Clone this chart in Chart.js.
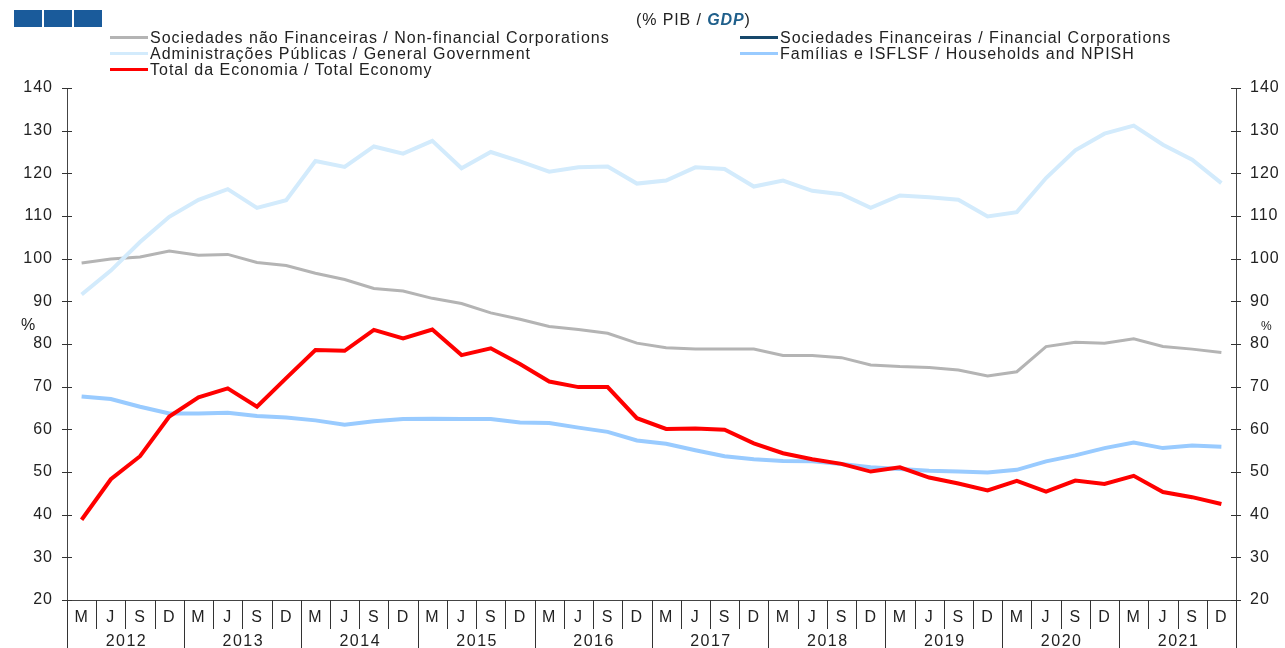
<!DOCTYPE html>
<html>
<head>
<meta charset="utf-8">
<script src="https://cdn.jsdelivr.net/npm/chart.js@4.4.0/dist/chart.umd.min.js"></script>
<style>
    body { margin: 0; background: #fff; font-family: "Liberation Sans", Arial, sans-serif; color: #222; }
    #wrap { position: relative; width: 1285px; height: 648px; overflow: hidden; }
    #wrap canvas { position: absolute; left: 0; top: 0; }
    .sq { position: absolute; top: 10px; width: 28px; height: 17px; background: #1a5b9b; }
    #subtitle { position: absolute; left: 636px; top: 11px; font-size: 16px; letter-spacing: 0.9px; }
    #subtitle b { color: #1f5f8b; font-style: italic; }
    .leg { position: absolute; font-size: 16px; letter-spacing: 1px; line-height: 16px; white-space: nowrap; }
    .leg span.ln { display: inline-block; width: 38px; height: 3px; vertical-align: middle; margin-right: 2px; position: relative; top: -1px; }
    .pct { position: absolute; font-size: 16px; }
</style>
</head>
<body>
<div id="wrap">
    <canvas id="myChart" width="1285" height="648"></canvas>
    <div class="sq" style="left:14px"></div>
    <div class="sq" style="left:44px"></div>
    <div class="sq" style="left:74px"></div>
    <div id="subtitle">(% PIB / <b>GDP</b>)</div>
    <div id="legend"></div>
    <div class="pct" style="left:21px;top:316px">%</div>
    <div class="pct" style="left:1261px;top:319px;font-size:12px">%</div>
</div>
<script>
const years = ['2012', '2013', '2014', '2015', '2016', '2017', '2018', '2019', '2020', '2021'];
const quarterLetters = ['M', 'J', 'S', 'D'];

const nonFinancial = [99, 99.9, 100.4, 101.8, 100.8, 101, 99.1, 98.4, 96.6, 95.1,
    93, 92.4, 90.7, 89.5, 87.3, 85.8, 84.1, 83.4, 82.5, 80.2,
    79.1, 78.8, 78.8, 78.8, 77.3, 77.3, 76.8, 75.1, 74.7, 74.5,
    73.9, 72.5, 73.5, 79.4, 80.4, 80.2, 81.2, 79.4, 78.8, 78];
const financialCorp = [];
const generalGov = [91.6, 97.2, 103.9, 109.8, 113.8, 116.3, 111.9, 113.7, 122.9, 121.5,
    126.3, 124.6, 127.6, 121.2, 125, 122.8, 120.4, 121.4, 121.6, 117.6,
    118.3, 121.4, 121, 116.9, 118.3, 115.9, 115.1, 111.9, 114.8, 114.4,
    113.8, 109.9, 110.9, 118.9, 125.4, 129.3, 131.2, 126.7, 123.2, 117.7];
const households = [67.7, 67.1, 65.3, 63.7, 63.7, 63.9, 63.1, 62.8, 62.1, 61.1,
    61.9, 62.4, 62.5, 62.4, 62.4, 61.6, 61.5, 60.4, 59.4, 57.4,
    56.6, 55.1, 53.7, 53, 52.6, 52.5, 51.9, 51.1, 50.7, 50.3,
    50.1, 49.9, 50.5, 52.5, 53.9, 55.6, 56.9, 55.6, 56.2, 55.9];
const totalEconomy = [38.8, 48.3, 53.7, 63, 67.5, 69.6, 65.3, 72, 78.6, 78.4,
    83.3, 81.3, 83.4, 77.4, 79, 75.3, 71.2, 69.9, 69.9, 62.6,
    60.1, 60.2, 59.9, 56.7, 54.4, 53, 51.9, 50.1, 51.1, 48.7,
    47.3, 45.7, 47.9, 45.4, 48, 47.2, 49.1, 45.3, 44.1, 42.5];

const labels = [];
years.forEach(() => quarterLetters.forEach(q => labels.push(q)));

const series = [
    { label: 'Sociedades não Financeiras / Non-financial Corporations', data: nonFinancial, color: '#b4b4b4', width: 3, order: 4, legendX: 110, legendY: 30 },
    { label: 'Sociedades Financeiras / Financial Corporations', data: financialCorp, color: '#17486b', width: 3, order: 5, legendX: 740, legendY: 30 },
    { label: 'Administrações Públicas / General Government', data: generalGov, color: '#d3ebfc', width: 4, order: 3, legendX: 110, legendY: 46 },
    { label: 'Famílias e ISFLSF / Households and NPISH', data: households, color: '#99cbff', width: 4, order: 2, legendX: 740, legendY: 46 },
    { label: 'Total da Economia / Total Economy', data: totalEconomy, color: '#ff0000', width: 4, order: 1, legendX: 110, legendY: 62 }
];

// legend laid out like the original two-column block
const legend = document.getElementById('legend');
series.forEach(s => {
    const item = document.createElement('div');
    item.className = 'leg';
    item.style.left = s.legendX + 'px';
    item.style.top = s.legendY + 'px';
    item.innerHTML = `<span class="ln" style="background:${s.color}"></span>${s.label}`;
    legend.appendChild(item);
});

const FONT = '"Liberation Sans", Arial, sans-serif';

// wider text like the original
const spacing = {
    id: 'spacing',
    beforeDraw(chart) { chart.ctx.letterSpacing = '1px'; }
};

// separators under the x axis, year labels and crossing ticks on both y axes
const axisDecor = {
    id: 'axisDecor',
    afterDraw(chart) {
        const { ctx, chartArea, scales } = chart;
        const x = scales.x;
        const half = (x.getPixelForValue(1) - x.getPixelForValue(0)) / 2;
        ctx.save();
        ctx.strokeStyle = '#333';
        ctx.lineWidth = 1;
        for (let i = 0; i <= labels.length; i++) {
            const px = Math.round(i < labels.length ? x.getPixelForValue(i) - half : x.getPixelForValue(labels.length - 1) + half) + 0.5;
            const len = i % 4 === 0 ? 48 : 29;
            ctx.beginPath();
            ctx.moveTo(px, chartArea.bottom);
            ctx.lineTo(px, chartArea.bottom + len);
            ctx.stroke();
        }
        ctx.fillStyle = '#222';
        ctx.font = '16px ' + FONT;
        ctx.letterSpacing = '1.5px';
        ctx.textAlign = 'center';
        ctx.textBaseline = 'middle';
        years.forEach((yr, k) => {
            const cx = (x.getPixelForValue(k * 4) + x.getPixelForValue(k * 4 + 3)) / 2;
            ctx.fillText(yr, cx + 1, chartArea.bottom + 42);
        });
        ['y', 'y2'].forEach(id => {
            const sc = scales[id];
            const ax = id === 'y' ? chartArea.left : chartArea.right;
            sc.ticks.forEach(t => {
                const py = Math.round(sc.getPixelForValue(t.value)) + 0.5;
                ctx.beginPath();
                ctx.moveTo(ax - 5, py);
                ctx.lineTo(ax + 5, py);
                ctx.stroke();
            });
        });
        ctx.restore();
    }
};

const tickFont = { family: FONT, size: 16 };
const yAxis = (position, width, pad) => ({
    position: position,
    min: 20,
    max: 140,
    ticks: { stepSize: 10, padding: pad, color: '#222', font: tickFont },
    grid: { display: false },
    border: { color: '#444', width: 1 },
    afterFit(scale) { scale.width = width; }
});

const ctx = document.getElementById('myChart').getContext('2d');
new Chart(ctx, {
    type: 'line',
    data: {
        labels: labels,
        datasets: series.map(s => ({
            label: s.label,
            data: s.data,
            borderColor: s.color,
            backgroundColor: s.color,
            borderWidth: s.width,
            pointRadius: 0,
            tension: 0,
            order: s.order,
            yAxisID: 'y'
        }))
    },
    options: {
        responsive: false,
        animation: false,
        layout: { padding: { top: 88, left: 0, right: 0, bottom: 0 } },
        plugins: { legend: { display: false }, tooltip: { enabled: false } },
        scales: {
            x: {
                offset: true,
                ticks: { autoSkip: false, maxRotation: 0, padding: 0, color: '#222', font: tickFont },
                grid: { display: false },
                border: { color: '#444', width: 1 },
                afterFit(scale) { scale.height = 48; }
            },
            y: yAxis('left', 67, 6),
            y2: yAxis('right', 49, 6)
        }
    },
    plugins: [spacing, axisDecor]
});
</script>
</body>
</html>
